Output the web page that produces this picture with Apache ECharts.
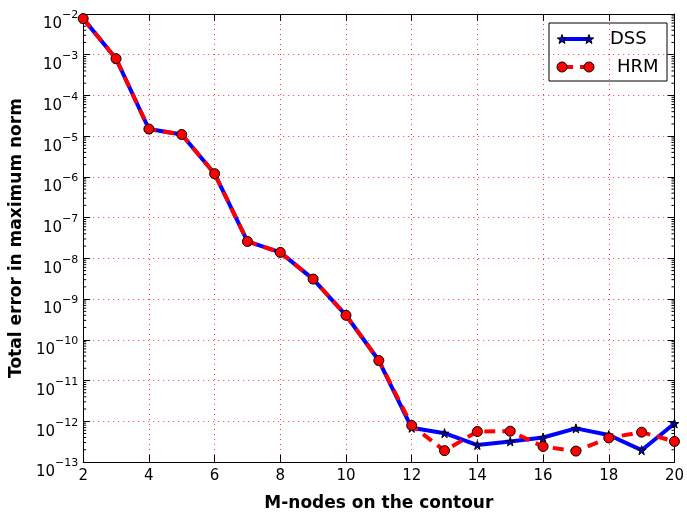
<!DOCTYPE html>
<html>
<head>
<meta charset="utf-8">
<script src="https://cdn.jsdelivr.net/npm/echarts@6/dist/echarts.min.js"></script>
<style>
  html, body { margin: 0; padding: 0; background: #fff; }
  #chart { width: 687px; height: 517px; }
</style>
</head>
<body>
<div id="chart"></div>
<script>
// Number of nodes M on the contour
const mNodes = [2, 3, 4, 5, 6, 7, 8, 9, 10, 11, 12, 13, 14, 15, 16, 17, 18, 19, 20];
// Total error in maximum norm, DSS method
const dssError = [7.7e-3, 8.0e-4, 1.5e-5, 1.1e-5, 1.2e-6, 2.6e-8, 1.4e-8, 3.1e-9, 4.0e-10, 3.1e-11,
                  6.9e-13, 5.1e-13, 2.6e-13, 3.2e-13, 4.0e-13, 6.7e-13, 4.6e-13, 1.95e-13, 8.8e-13];
// Total error in maximum norm, HRM method
const hrmError = [7.7e-3, 8.0e-4, 1.5e-5, 1.1e-5, 1.2e-6, 2.6e-8, 1.4e-8, 3.1e-9, 4.0e-10, 3.1e-11,
                  7.9e-13, 1.9e-13, 5.6e-13, 5.7e-13, 2.4e-13, 1.85e-13, 3.9e-13, 5.4e-13, 3.2e-13];
// Axis ranges
const xRange = [2, 20];
const yRange = [1e-13, 1e-2];

const FONT = 'DejaVu Sans';
const STAR = 'path://M50,0 L61,35 L98,35 L68,57 L79,91 L50,70 L21,91 L32,57 L2,35 L39,35 Z';

// five-pointed star polygon centred on (cx, cy)
function starPoints(cx, cy, R) {
  const pts = [];
  const r = R * 0.4;
  for (let i = 0; i < 10; i++) {
    const a = -Math.PI / 2 + i * Math.PI / 5;
    const rad = i % 2 === 0 ? R : r;
    pts.push([cx + rad * Math.cos(a), cy + rad * Math.sin(a)]);
  }
  return pts;
}

// minor decade ticks (2..9 x 10^n) on the log axis
const minorTicks = [];
for (let e = -13; e < -2; e++) {
  for (let k = 2; k <= 9; k++) minorTicks.push([xRange[0], k * Math.pow(10, e)]);
}

function powLabel(v) {
  const e = Math.round(Math.log10(v));
  return '{b|10}{s|' + (e < 0 ? '\u2212' : '') + Math.abs(e) + '}';
}

function gridLine() {
  return { show: true, lineStyle: { color: '#ff0000', opacity: 0.8, width: 1, type: [1, 4] } };
}

const chart = echarts.init(document.getElementById('chart'), null, { renderer: 'canvas' });

const option = {
  animation: false,
  backgroundColor: '#fff',
  grid: { left: 81, right: 11, top: 14, bottom: 43, containLabel: false },
  xAxis: [
    {
      type: 'value', min: xRange[0], max: xRange[1], interval: 2,
      name: 'M-nodes on the contour', nameLocation: 'middle', nameGap: 33,
      nameTextStyle: { fontFamily: FONT, fontWeight: 'bold', fontSize: 17, color: '#000' },
      axisLine: { show: true, onZero: false, lineStyle: { color: '#000', width: 1 } },
      axisTick: { show: true, inside: true, length: 7, lineStyle: { color: '#000' } },
      axisLabel: { fontFamily: FONT, fontSize: 15, color: '#000', margin: 7 },
      splitLine: gridLine()
    },
    {
      type: 'value', position: 'top', min: xRange[0], max: xRange[1], interval: 2,
      axisLine: { show: true, lineStyle: { color: '#000', width: 1 } },
      axisTick: { show: true, inside: true, length: 7, lineStyle: { color: '#000' } },
      axisLabel: { show: false }, splitLine: { show: false }
    }
  ],
  yAxis: [
    {
      type: 'log', logBase: 10, min: yRange[0], max: yRange[1], interval: 1,
      name: 'Total error in maximum norm', nameLocation: 'middle', nameGap: 55,
      nameTextStyle: { fontFamily: FONT, fontWeight: 'bold', fontSize: 17, color: '#000' },
      axisLine: { show: true, onZero: false, lineStyle: { color: '#000', width: 1 } },
      axisTick: { show: true, inside: true, length: 7, lineStyle: { color: '#000' } },
      axisLabel: {
        margin: 5, formatter: powLabel, padding: [14, 0, 0, 0],
        rich: {
          b: { fontFamily: FONT, fontSize: 15, color: '#000', lineHeight: 22, verticalAlign: 'bottom', padding: [8, 0, 0, 0] },
          s: { fontFamily: FONT, fontSize: 11, color: '#000', lineHeight: 12, verticalAlign: 'top' }
        }
      },
      splitLine: gridLine()
    },
    {
      type: 'log', logBase: 10, position: 'right', min: yRange[0], max: yRange[1], interval: 1,
      axisLine: { show: true, lineStyle: { color: '#000', width: 1 } },
      axisTick: { show: true, inside: true, length: 7, lineStyle: { color: '#000' } },
      axisLabel: { show: false }, splitLine: { show: false }
    }
  ],
  series: [
    {
      name: 'minor ticks', type: 'custom', silent: true, clip: false, z: 1,
      xAxisIndex: 0, yAxisIndex: 0,
      data: minorTicks,
      renderItem: function (params, api) {
        const l = api.coord([xRange[0], api.value(1)]);
        const r = api.coord([xRange[1], api.value(1)]);
        return {
          type: 'group', children: [
            { type: 'line', shape: { x1: l[0], y1: l[1], x2: l[0] + 3, y2: l[1] }, style: { stroke: '#000', lineWidth: 1 } },
            { type: 'line', shape: { x1: r[0], y1: r[1], x2: r[0] - 3, y2: r[1] }, style: { stroke: '#000', lineWidth: 1 } }
          ]
        };
      }
    },
    {
      name: 'DSS', type: 'line', z: 3,
      data: mNodes.map((m, i) => [m, dssError[i]]),
      symbol: STAR, symbolSize: 9, showAllSymbol: true,
      lineStyle: { color: '#0000ff', width: 4 },
      itemStyle: { color: '#0000c0', borderColor: '#000', borderWidth: 1 }
    },
    {
      name: 'HRM', type: 'line', z: 4,
      data: mNodes.map((m, i) => [m, hrmError[i]]),
      symbol: 'circle', symbolSize: 10, showAllSymbol: true,
      lineStyle: { color: '#ff0000', width: 4, type: [11, 7] },
      itemStyle: { color: '#ff0000', borderColor: '#000', borderWidth: 1 }
    }
  ],
  graphic: [
    {
      type: 'group', x: 549, y: 23, z: 10,
      children: [
        { type: 'rect', shape: { x: 0, y: 0, width: 118, height: 58 }, style: { fill: '#fff', stroke: '#000', lineWidth: 1 } },
        { type: 'line', shape: { x1: 13, y1: 16, x2: 40, y2: 16 }, style: { stroke: '#0000ff', lineWidth: 4 } },
        { type: 'polygon', shape: { points: starPoints(13, 16.5, 5) }, style: { fill: '#0000c0', stroke: '#000', lineWidth: 1 } },
        { type: 'polygon', shape: { points: starPoints(40, 16.5, 5) }, style: { fill: '#0000c0', stroke: '#000', lineWidth: 1 } },
        { type: 'text', x: 61, y: 16, style: { text: 'DSS', fontFamily: FONT, fontSize: 18, fill: '#000', verticalAlign: 'middle' } },
        { type: 'line', shape: { x1: 13, y1: 44, x2: 40, y2: 44 }, style: { stroke: '#ff0000', lineWidth: 4, lineDash: [11, 7] } },
        { type: 'circle', shape: { cx: 13, cy: 44, r: 5 }, style: { fill: '#ff0000', stroke: '#000', lineWidth: 1 } },
        { type: 'circle', shape: { cx: 40, cy: 44, r: 5 }, style: { fill: '#ff0000', stroke: '#000', lineWidth: 1 } },
        { type: 'text', x: 68, y: 44, style: { text: 'HRM', fontFamily: FONT, fontSize: 18, fill: '#000', verticalAlign: 'middle' } }
      ]
    }
  ]
};

chart.setOption(option);
</script>
</body>
</html>
